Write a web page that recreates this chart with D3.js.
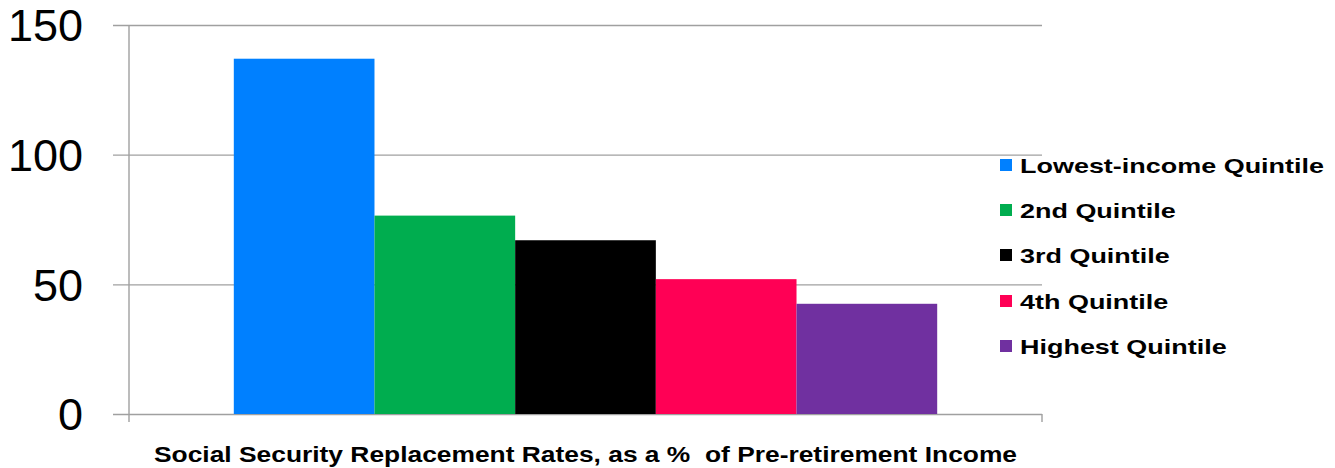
<!DOCTYPE html>
<html>
<head>
<meta charset="utf-8">
<script src="https://cdn.jsdelivr.net/npm/d3@7"></script>
<style>
  html, body { margin: 0; padding: 0; background: #fff; }
  svg { display: block; font-family: "Liberation Sans", Arial, sans-serif; }
</style>
</head>
<body>
<svg id="chart" width="1335" height="468"></svg>
<script>
// data
const category = 'Social Security Replacement Rates, as a %  of Pre-retirement Income';
const seriesNames = ['Lowest-income Quintile', '2nd Quintile', '3rd Quintile', '4th Quintile', 'Highest Quintile'];
const seriesValues = [137, 76.5, 67, 52, 42.5];
const seriesColors = ['#0080ff', '#00ad4f', '#000000', '#ff0055', '#7030a0'];
const yTicks = [0, 50, 100, 150];

const svg = d3.select('#chart');

const margin = { top: 25, right: 293, bottom: 54, left: 129 };
const width = +svg.attr('width');
const height = +svg.attr('height');
const chartWidth = width - margin.left - margin.right;
const chartHeight = height - margin.top - margin.bottom;

const x0 = d3.scaleBand()
  .domain([category])
  .range([0, chartWidth])
  .paddingInner(0)
  .paddingOuter(0.149);

const x1 = d3.scaleBand()
  .domain(seriesNames)
  .range([0, x0.bandwidth()])
  .padding(0);

const y = d3.scaleLinear()
  .domain([0, 150])
  .range([chartHeight, 0]);

const g = svg.append('g')
  .attr('transform', `translate(${margin.left},${margin.top})`);

// gridlines + y ticks
const yAxis = g.append('g')
  .call(d3.axisLeft(y).tickValues(yTicks).tickSize(-chartWidth).tickSizeOuter(0).tickPadding(46));
yAxis.select('.domain').remove();
yAxis.selectAll('.tick line')
  .attr('x1', -16)
  .attr('stroke', '#a0a0a0')
  .attr('stroke-width', 1.4);
yAxis.selectAll('.tick text')
  .attr('fill', '#000')
  .style('font-size', '45px')
  .attr('dy', '0.35em');

// y axis line
g.append('line')
  .attr('x1', 0).attr('x2', 0)
  .attr('y1', 0).attr('y2', chartHeight + 8)
  .attr('stroke', '#a0a0a0')
  .attr('stroke-width', 1.4);

// right end tick of the category axis
g.append('line')
  .attr('x1', chartWidth).attr('x2', chartWidth)
  .attr('y1', chartHeight).attr('y2', chartHeight + 8)
  .attr('stroke', '#a0a0a0')
  .attr('stroke-width', 1.4);

// bars
g.selectAll('.bar')
  .data(seriesNames.map((name, i) => ({ name, value: seriesValues[i], color: seriesColors[i] })))
  .enter()
  .append('rect')
  .attr('class', 'bar')
  .attr('x', (d) => x0(category) + x1(d.name))
  .attr('y', (d) => y(d.value))
  .attr('width', x1.bandwidth())
  .attr('height', (d) => chartHeight - y(d.value))
  .attr('fill', (d) => d.color);

// x axis title
const title = svg.append('text')
  .attr('x', margin.left + chartWidth / 2)
  .attr('y', 462)
  .attr('text-anchor', 'middle')
  .style('font-size', '22px')
  .style('font-weight', 'bold')
  .style('white-space', 'pre')
  .attr('xml:space', 'preserve')
  .text(category);
title.attr('textLength', 863).attr('lengthAdjust', 'spacingAndGlyphs');

// legend
const legend = svg.append('g').attr('transform', 'translate(1000,0)');
const legendY = [165, 210, 255, 301, 346];
const items = legend.selectAll('.item')
  .data(seriesNames)
  .enter()
  .append('g')
  .attr('class', 'item')
  .attr('transform', (d, i) => `translate(0,${legendY[i]})`);

items.append('rect')
  .attr('x', 0)
  .attr('y', -6)
  .attr('width', 12)
  .attr('height', 12)
  .attr('fill', (d, i) => seriesColors[i]);

const labels = items.append('text')
  .attr('x', 20)
  .attr('dy', '0.36em')
  .style('font-size', '21px')
  .style('font-weight', 'bold')
  .text((d) => d);

// stretch legend text uniformly so the first item spans like the reference
const natural = labels.nodes().map((n) => n.getComputedTextLength());
const stretch = 304 / natural[0];
labels.attr('textLength', (d, i) => natural[i] * stretch).attr('lengthAdjust', 'spacingAndGlyphs');
</script>
</body>
</html>
